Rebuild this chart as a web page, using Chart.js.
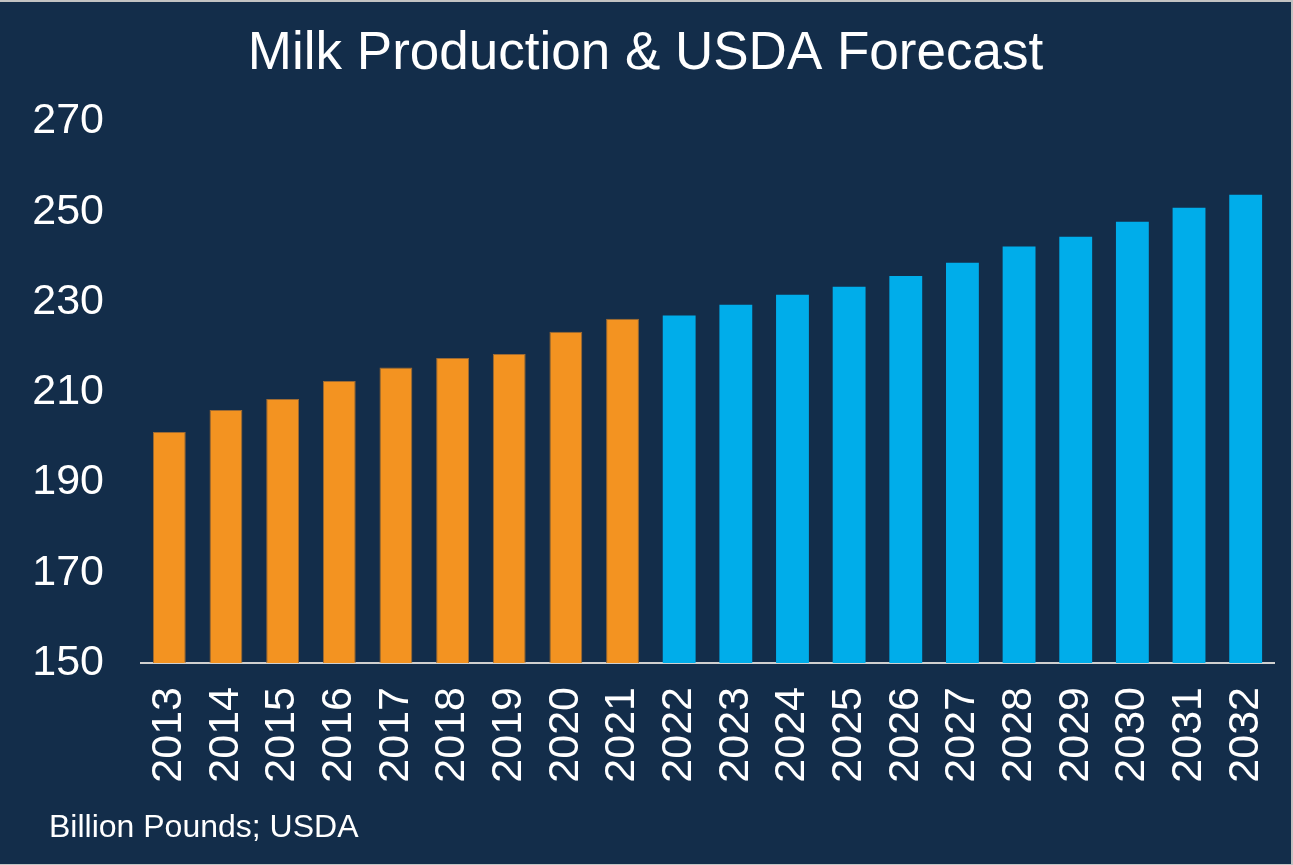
<!DOCTYPE html>
<html>
<head>
<meta charset="utf-8">
<script src="https://cdn.jsdelivr.net/npm/chart.js@4.4.1/dist/chart.umd.min.js"></script>
<style>
  html, body { margin: 0; padding: 0; }
  body { width: 1293px; height: 865px; background: #c3c3c3; overflow: hidden; position: relative; }
  #wrap { position: absolute; left: 0; top: 2px; width: 1291px; height: 862px; background: #132d4a; }
  #chart { display: block; }
  #note { position: absolute; left: 49px; top: 806px; color: #fff; font: 32px "Liberation Sans", Arial, sans-serif; white-space: nowrap; }
</style>
</head>
<body>
<div id="wrap">
  <canvas id="chart" width="1291" height="862"></canvas>
  <div id="note">Billion Pounds; USDA</div>
</div>
<script>
const years = ["2013", "2014", "2015", "2016", "2017", "2018", "2019", "2020", "2021", "2022",
  "2023", "2024", "2025", "2026", "2027", "2028", "2029", "2030", "2031", "2032"];
// billion pounds, 2013-2021 actual
const actual = [201.2, 206.1, 208.5, 212.5, 215.5, 217.6, 218.5, 223.4, 226.3];
// 2022-2032 USDA forecast
const forecast = [227.0, 229.4, 231.6, 233.4, 235.8, 238.7, 242.3, 244.5, 247.8, 250.9, 253.8];
const yMin = 150;
const yMax = 270;
const yStep = 20;

const orange = "#f39321";
const blue = "#00adea";
const white = "#ffffff";

Chart.defaults.font.family = '"Liberation Sans", Arial, sans-serif';
Chart.defaults.color = white;

const ctx = document.getElementById("chart");

new Chart(ctx, {
  type: "bar",
  data: {
    labels: years,
    datasets: [{
      label: "Actual",
      data: actual.map((v, i) => ({ x: years[i], y: v })),
      backgroundColor: orange,
      borderColor: "#9d6a33",
      borderWidth: 1
    }, {
      label: "Forecast",
      data: forecast.map((v, i) => ({ x: years[actual.length + i], y: v })),
      backgroundColor: blue,
      borderWidth: 0
    }]
  },
  options: {
    responsive: false,
    animation: false,
    datasets: {
      bar: { grouped: false, barPercentage: 0.58, categoryPercentage: 1 }
    },
    layout: {
      padding: { left: 17, right: 17, top: 0, bottom: 81 }
    },
    plugins: {
      legend: { display: false },
      tooltip: { enabled: false },
      title: {
        display: true,
        text: "Milk Production & USDA Forecast",
        color: white,
        font: { size: 53, weight: "normal" },
        padding: { top: 21, bottom: 35 }
      }
    },
    scales: {
      x: {
        grid: { display: false, drawTicks: false },
        border: { display: true, color: "#d0d0d0", width: 2 },
        ticks: {
          color: white,
          font: { size: 43 },
          minRotation: 90,
          maxRotation: 90,
          autoSkip: false,
          padding: 24
        },
        afterFit: scale => {
          scale.paddingLeft = 0;
          scale.paddingRight = 0;
          scale.height = 120;
        }
      },
      y: {
        min: yMin,
        max: yMax,
        grid: { display: false, drawTicks: false },
        border: { display: false },
        ticks: {
          stepSize: yStep,
          color: white,
          font: { size: 43 },
          padding: 37
        },
        afterFit: scale => {
          scale.width = 124;
        }
      }
    }
  }
});
</script>
</body>
</html>
